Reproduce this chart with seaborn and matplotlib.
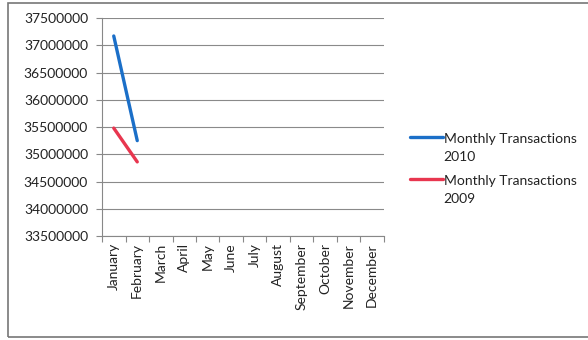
import matplotlib
matplotlib.use("Agg")
import matplotlib.pyplot as plt
import seaborn as sns
import pandas as pd
from matplotlib.patches import Rectangle
from matplotlib.legend_handler import HandlerLine2D

months = ["January", "February", "March", "April", "May", "June", "July",
          "August", "September", "October", "November", "December"]
tx_2010 = [37170000, 35250000]
tx_2009 = [35480000, 34860000]
series_names = ["Monthly Transactions\n2010", "Monthly Transactions\n2009"]
y_ticks = list(range(33500000, 37500001, 500000))

rows = []
for name, vals in zip(series_names, [tx_2010, tx_2009]):
    for i, v in enumerate(vals):
        rows.append({"pos": i, "value": v, "series": name})
df = pd.DataFrame(rows)

sns.set_theme(style="white")
plt.rcParams["font.family"] = ["Lato", "DejaVu Sans"]


class TopAlignedLine(HandlerLine2D):
    """Legend line drawn level with the first line of a two-line label."""
    def create_artists(self, legend, orig_handle, xdescent, ydescent,
                       width, height, fontsize, trans):
        artists = super().create_artists(legend, orig_handle, xdescent, ydescent,
                                         width, height, fontsize, trans)
        for a in artists:
            a.set_ydata([y + fontsize * 0.8 for y in a.get_ydata()])
        return artists


fig = plt.figure(figsize=(5.88, 3.40), dpi=100)
ax = fig.add_axes([102 / 588, 1 - 236 / 340, (384 - 102) / 588, (236 - 18) / 340])

palette = {series_names[0]: "#1b6fc8", series_names[1]: "#e8364f"}
sns.lineplot(data=df, x="pos", y="value", hue="series", hue_order=series_names,
             palette=palette, linewidth=2.4, ax=ax, legend=True)

ax.set_xlim(-0.5, 11.5)
ax.set_ylim(33500000, 37500000)
ax.set_yticks(y_ticks)
ax.set_yticklabels([str(t) for t in y_ticks], fontsize=10, color="#222222")
ax.set_xticks(range(len(months)))
ax.set_xticklabels(months, rotation=90, fontsize=10, color="#222222")
ax.set_xticks([i - 0.5 for i in range(len(months) + 1)], minor=True)
ax.tick_params(axis="x", which="major", length=0, pad=5)
ax.tick_params(axis="x", which="minor", length=4, color="#888888", width=0.8, bottom=True)
ax.tick_params(axis="y", which="major", length=4, color="#888888", width=0.8, left=True, pad=6)
ax.set_xlabel("")
ax.set_ylabel("")

ax.grid(axis="y", color="#8a8a8a", linewidth=0.8)
ax.set_axisbelow(True)
for side in ["top", "right"]:
    ax.spines[side].set_visible(False)
for side in ["left", "bottom"]:
    ax.spines[side].set_color("#888888")
    ax.spines[side].set_linewidth(0.8)

handles, labels = ax.get_legend_handles_labels()
leg = ax.legend(handles, labels, loc="center left", bbox_to_anchor=(397 / 588, 1 - 169 / 340),
                bbox_transform=fig.transFigure, frameon=False, fontsize=10,
                handlelength=2.4, handletextpad=0.05, labelspacing=0.85,
                handler_map={h: TopAlignedLine() for h in handles})
for line in leg.get_lines():
    line.set_linewidth(2.4)
for t in leg.get_texts():
    t.set_linespacing(1.6)
    t.set_color("#222222")

fig.patches.append(Rectangle((8 / 588, 3 / 340), 1.0, 334 / 340, transform=fig.transFigure,
                             fill=False, edgecolor="#777777", linewidth=1.2))

fig.savefig("out.png", dpi=100, facecolor="white")
